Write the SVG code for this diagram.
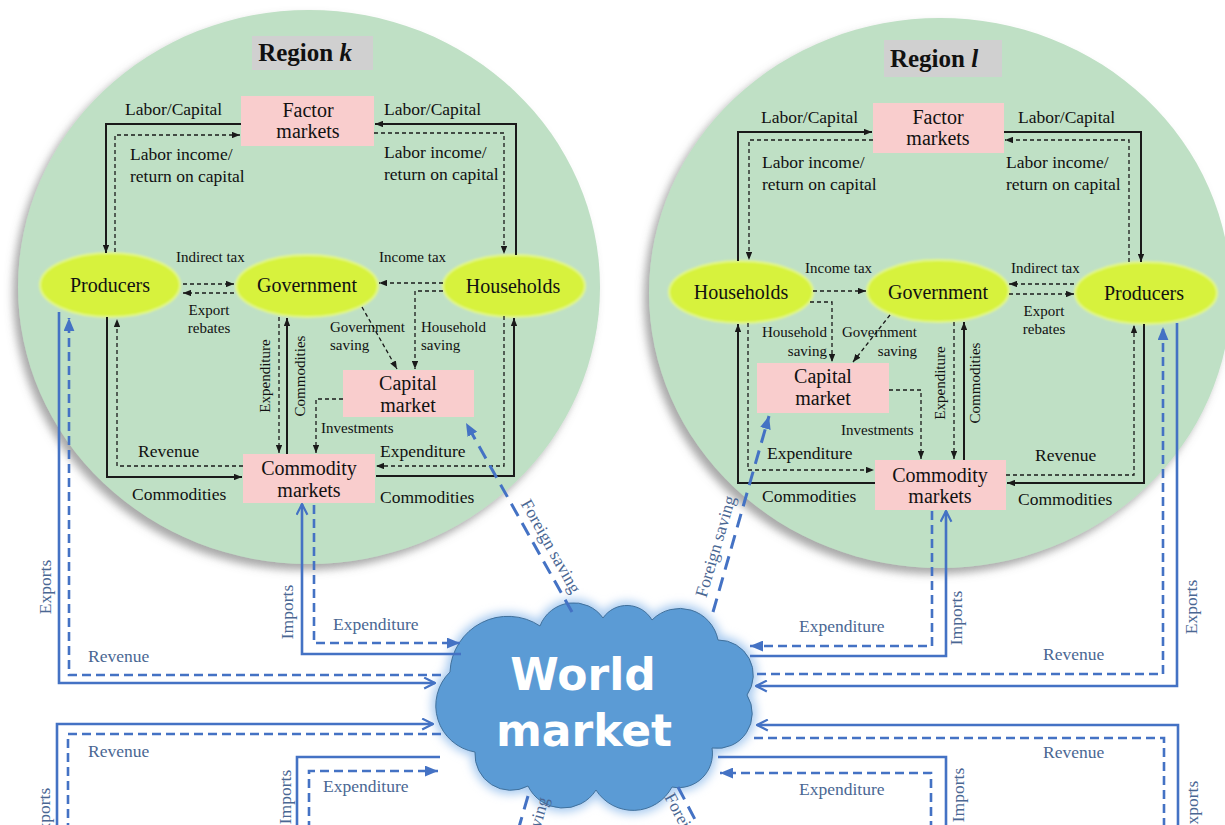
<svg xmlns="http://www.w3.org/2000/svg" width="1225" height="825" viewBox="0 0 1225 825">
  <style>
    .reg { fill: #bfe0c5; }
    .lbl { fill: #d0d0d0; }
    .box { fill: #f9cdcd; }
    .oval { fill: #d7f23e; stroke: #e4f88c; stroke-width: 2; }
    .t { fill: #111; }
    .big { font-size: 20px; text-anchor: middle; }
    .mid { font-size: 17.5px; }
    .sm { font-size: 15px; }
    .title { font-size: 25px; font-weight: bold; text-anchor: middle; }
    .bt { fill: #4a6793; font-size: 17.5px; }
    .c { text-anchor: middle; }
    .e { text-anchor: end; }
    .s { fill: none; stroke: #1a1a1a; stroke-width: 2; marker-end: url(#ah); }
    .d { fill: none; stroke: #1a1a1a; stroke-width: 1.3; stroke-dasharray: 4 3; marker-end: url(#ah); }
    .bs { fill: none; stroke: #4472c4; stroke-width: 2.6; }
    .bd { fill: none; stroke: #4472c4; stroke-width: 2.6; stroke-dasharray: 9 5; }
    .fs { fill: none; stroke: #4472c4; stroke-width: 3; stroke-dasharray: 14 8; }
    .world { font-weight: bold; font-size: 44px; fill: #fff; text-anchor: middle; }
  </style>
  <defs>
    <marker id="ah" viewBox="0 0 10 8" refX="10" refY="4" markerWidth="8" markerHeight="6.4" markerUnits="userSpaceOnUse" orient="auto">
      <path d="M0,0 L10,4 L0,8 z" fill="#1a1a1a"/>
    </marker>
    <marker id="tri" viewBox="0 0 12 10" refX="12" refY="5" markerWidth="13" markerHeight="11" markerUnits="userSpaceOnUse" orient="auto">
      <path d="M0,0 L12,5 L0,10 z" fill="#4472c4"/>
    </marker>
    <marker id="chev" viewBox="0 0 12 12" refX="11" refY="6" markerWidth="13" markerHeight="13" markerUnits="userSpaceOnUse" orient="auto">
      <path d="M1,1 L11,6 L1,11" fill="none" stroke="#4472c4" stroke-width="2"/>
    </marker>
    <filter id="shadow" x="-10%" y="-10%" width="120%" height="125%">
      <feGaussianBlur in="SourceAlpha" stdDeviation="4"/>
      <feOffset dx="-5" dy="6" result="b"/>
      <feFlood flood-color="#6f6f6f" flood-opacity="0.6"/>
      <feComposite in2="b" operator="in"/>
      <feMerge><feMergeNode/><feMergeNode in="SourceGraphic"/></feMerge>
    </filter>
    <filter id="glow" x="-20%" y="-20%" width="140%" height="140%">
      <feGaussianBlur stdDeviation="5"/>
    </filter>
    <filter id="soft" x="-10%" y="-10%" width="120%" height="120%">
      <feGaussianBlur stdDeviation="0.8"/>
    </filter>
    <path id="cloudShape" d="M450,672 A58,58 0 0 1 540,626 A36,36 0 0 1 603,618 A29,29 0 0 1 652,620 A39,39 0 0 1 718,640 A35,35 0 0 1 747,695 A35,35 0 0 1 712,748 A34,34 0 0 1 672,787 A44,44 0 0 1 596,790 A39,39 0 0 1 528,786 A36,36 0 0 1 475,752 A47,47 0 0 1 450,672 z"/>
  </defs>

  <rect width="1225" height="825" fill="#ffffff"/>

  <g font-family="'Liberation Serif', 'DejaVu Serif', 'Times New Roman', serif">
  <!-- Region k -->
  <g id="region-k">
    <ellipse class="reg" cx="309" cy="287" rx="291" ry="277" filter="url(#shadow)"/>
    <rect class="lbl" x="252" y="36" width="121" height="34"/>
    <text class="t title" x="305" y="61">Region <tspan font-style="italic">k</tspan></text>
  </g>

  <!-- Region l -->
  <g id="region-l">
    <ellipse class="reg" cx="940" cy="293" rx="291" ry="275" filter="url(#shadow)"/>
    <rect class="lbl" x="884" y="40" width="118" height="37"/>
    <text class="t title" x="934" y="67">Region <tspan font-style="italic">l</tspan></text>
  </g>

  <!-- World market -->
  <g id="world-market">
    <use href="#cloudShape" fill="#a9cbf0" stroke="#a9cbf0" stroke-width="8" filter="url(#glow)"/>
    <use href="#cloudShape" fill="#5b9bd5" stroke="#41719c" stroke-width="1"/>
    <text class="world" font-family="'DejaVu Sans', Verdana, sans-serif" x="583" y="690">World</text>
    <text class="world" font-family="'DejaVu Sans', Verdana, sans-serif" x="584" y="746">market</text>
  </g>

  <!-- Nodes, region k -->
  <g id="k-factor-markets">
    <rect class="box" x="241" y="96" width="133" height="50"/>
    <text class="t big" x="308" y="117">Factor</text>
    <text class="t big" x="308" y="138">markets</text>
  </g>
  <g id="k-producers">
    <ellipse class="oval" cx="110" cy="285" rx="70" ry="32" filter="url(#soft)"/>
    <text class="t big" x="110" y="292">Producers</text>
  </g>
  <g id="k-government">
    <ellipse class="oval" cx="307" cy="286" rx="71" ry="31" filter="url(#soft)"/>
    <text class="t big" x="307" y="292">Government</text>
  </g>
  <g id="k-households">
    <ellipse class="oval" cx="514" cy="286" rx="71" ry="31" filter="url(#soft)"/>
    <text class="t big" x="513" y="293">Households</text>
  </g>
  <g id="k-capital-market">
    <rect class="box" x="343" y="370" width="131" height="47"/>
    <text class="t big" x="408" y="390">Capital</text>
    <text class="t big" x="408" y="412">market</text>
  </g>
  <g id="k-commodity-markets">
    <rect class="box" x="243" y="454" width="132" height="49"/>
    <text class="t big" x="309" y="475">Commodity</text>
    <text class="t big" x="309" y="497">markets</text>
  </g>

  <!-- Nodes, region l -->
  <g id="l-factor-markets">
    <rect class="box" x="873" y="103" width="131" height="50"/>
    <text class="t big" x="938" y="124">Factor</text>
    <text class="t big" x="938" y="145">markets</text>
  </g>
  <g id="l-households">
    <ellipse class="oval" cx="741" cy="292" rx="72" ry="31" filter="url(#soft)"/>
    <text class="t big" x="741" y="299">Households</text>
  </g>
  <g id="l-government">
    <ellipse class="oval" cx="938" cy="291" rx="71" ry="31" filter="url(#soft)"/>
    <text class="t big" x="938" y="299">Government</text>
  </g>
  <g id="l-producers">
    <ellipse class="oval" cx="1146" cy="293" rx="71" ry="31" filter="url(#soft)"/>
    <text class="t big" x="1144" y="300">Producers</text>
  </g>
  <g id="l-capital-market">
    <rect class="box" x="757" y="363" width="132" height="50"/>
    <text class="t big" x="823" y="383">Capital</text>
    <text class="t big" x="823" y="405">market</text>
  </g>
  <g id="l-commodity-markets">
    <rect class="box" x="875" y="460" width="131" height="50"/>
    <text class="t big" x="940" y="482">Commodity</text>
    <text class="t big" x="940" y="503">markets</text>
  </g>

  <!-- Connectors -->
  <g id="connectors">
    <!-- region k, internal flows -->
    <path class="s" d="M241,124 H106 V253"/>
    <path class="d" d="M115,252 V135 H240"/>
    <path class="s" d="M516,255 V124 H375"/>
    <path class="d" d="M374,133 H504 V254"/>
    <path class="d" d="M183,284 H234"/>
    <path class="d" d="M234,293 H183"/>
    <path class="d" d="M443,283 H379"/>
    <path class="d" d="M443,291 H415 V369"/>
    <path class="d" d="M362,307 L397,369"/>
    <path class="d" d="M279,317 V453"/>
    <path class="s" d="M287,454 V318"/>
    <path class="d" d="M343,399 H316 V453"/>
    <path class="d" d="M243,466 H117 V319"/>
    <path class="s" d="M107,317 V477 H242"/>
    <path class="d" d="M504,316 V466 H376"/>
    <path class="s" d="M376,476 H514 V318"/>

    <!-- region l, internal flows -->
    <path class="s" d="M738,261 V132 H872"/>
    <path class="d" d="M873,140 H749 V260"/>
    <path class="s" d="M1004,132 H1141 V262"/>
    <path class="d" d="M1129,262 V140 H1005"/>
    <path class="d" d="M813,291 H866"/>
    <path class="d" d="M1074,284 H1009"/>
    <path class="d" d="M1009,294 H1074"/>
    <path class="d" d="M810,302 H832 V362"/>
    <path class="d" d="M890,315 L853,362"/>
    <path class="d" d="M889,390 H921 V459"/>
    <path class="d" d="M954,322 V459"/>
    <path class="s" d="M964,460 V322"/>
    <path class="s" d="M875,483 H738 V324"/>
    <path class="d" d="M748,323 V470 H874"/>
    <path class="d" d="M1006,475 H1134 V325"/>
    <path class="s" d="M1144,324 V483 H1007"/>

    <!-- region k, trade with the world market -->
    <path class="bs" d="M59,312 V683 H435" marker-end="url(#chev)"/>
    <path class="bd" d="M441,675 H69 V318" marker-end="url(#tri)"/>
    <path class="bs" d="M461,654 H302 V504" marker-end="url(#chev)"/>
    <path class="bd" d="M314,505 V643 H460" marker-end="url(#tri)"/>
    <path class="fs" d="M572,612 L466,423" marker-end="url(#tri)"/>

    <!-- region l, trade with the world market -->
    <path class="bs" d="M750,656 H946 V511" marker-end="url(#chev)"/>
    <path class="bd" d="M932,511 V646 H750" marker-end="url(#tri)"/>
    <path class="bs" d="M1177,323 V686 H756" marker-end="url(#chev)"/>
    <path class="bd" d="M757,674 H1163 V327" marker-end="url(#tri)"/>
    <path class="fs" d="M713,612 L769,416" marker-end="url(#tri)"/>

    <!-- lower regions, trade with the world market -->
    <path class="bs" d="M57,830 V724 H433" marker-end="url(#chev)"/>
    <path class="bd" d="M441,734 H68 V830"/>
    <path class="bs" d="M440,757 H297 V830"/>
    <path class="bd" d="M309,830 V771 H438" marker-end="url(#tri)"/>
    <path class="bs" d="M1178,830 V725 H757" marker-end="url(#chev)"/>
    <path class="bd" d="M754,738 H1164 V830"/>
    <path class="bs" d="M718,757 H946 V830"/>
    <path class="bd" d="M931,830 V773 H720" marker-end="url(#tri)"/>
    <path class="fs" d="M528,796 L517,834"/>
    <path class="fs" d="M678,787 L700,829"/>
  </g>

  <!-- Connector labels, region k -->
  <g id="labels-k">
    <text class="t mid" x="125" y="115">Labor/Capital</text>
    <text class="t mid" x="384" y="115">Labor/Capital</text>
    <text class="t mid" x="130" y="160">Labor income/</text>
    <text class="t mid" x="130" y="182">return on capital</text>
    <text class="t mid" x="384" y="158">Labor income/</text>
    <text class="t mid" x="384" y="180">return on capital</text>
    <text class="t sm" x="176" y="262">Indirect tax</text>
    <text class="t sm c" x="209" y="315">Export</text>
    <text class="t sm c" x="209" y="333">rebates</text>
    <text class="t sm" x="379" y="262">Income tax</text>
    <text class="t sm" x="330" y="332">Government</text>
    <text class="t sm" x="330" y="350">saving</text>
    <text class="t sm" x="421" y="332">Household</text>
    <text class="t sm" x="421" y="350">saving</text>
    <text class="t sm" x="321" y="433">Investments</text>
    <text class="t sm c" transform="translate(265,376) rotate(-90)" x="0" y="5">Expenditure</text>
    <text class="t sm c" transform="translate(300,376) rotate(-90)" x="0" y="5">Commodities</text>
    <text class="t mid" x="138" y="457">Revenue</text>
    <text class="t mid" x="132" y="500">Commodities</text>
    <text class="t mid" x="380" y="457">Expenditure</text>
    <text class="t mid" x="380" y="503">Commodities</text>
  </g>

  <!-- Connector labels, region l -->
  <g id="labels-l">
    <text class="t mid" x="761" y="123">Labor/Capital</text>
    <text class="t mid" x="1018" y="123">Labor/Capital</text>
    <text class="t mid" x="762" y="168">Labor income/</text>
    <text class="t mid" x="762" y="190">return on capital</text>
    <text class="t mid" x="1006" y="168">Labor income/</text>
    <text class="t mid" x="1006" y="190">return on capital</text>
    <text class="t sm" x="805" y="273">Income tax</text>
    <text class="t sm" x="1011" y="273">Indirect tax</text>
    <text class="t sm c" x="1044" y="316">Export</text>
    <text class="t sm c" x="1044" y="334">rebates</text>
    <text class="t sm e" x="827" y="337">Household</text>
    <text class="t sm e" x="827" y="356">saving</text>
    <text class="t sm e" x="917" y="337">Government</text>
    <text class="t sm e" x="917" y="356">saving</text>
    <text class="t sm" x="841" y="435">Investments</text>
    <text class="t sm c" transform="translate(940,383) rotate(-90)" x="0" y="5">Expenditure</text>
    <text class="t sm c" transform="translate(975,383) rotate(-90)" x="0" y="5">Commodities</text>
    <text class="t mid" x="767" y="459">Expenditure</text>
    <text class="t mid" x="762" y="502">Commodities</text>
    <text class="t mid" x="1035" y="461">Revenue</text>
    <text class="t mid" x="1018" y="505">Commodities</text>
  </g>

  <!-- Trade labels -->
  <g id="labels-trade">
    <text class="bt c" transform="translate(45,587) rotate(-90)" x="0" y="6">Exports</text>
    <text class="bt" x="88" y="662">Revenue</text>
    <text class="bt c" transform="translate(287,612) rotate(-90)" x="0" y="6">Imports</text>
    <text class="bt" x="333" y="630">Expenditure</text>
    <text class="bt c" transform="translate(546,549) rotate(60.6)">Foreign saving</text>
    <text class="bt c" transform="translate(721,548) rotate(-73.7)">Foreign saving</text>
    <text class="bt c" transform="translate(956,618) rotate(-90)" x="0" y="6">Imports</text>
    <text class="bt" x="799" y="632">Expenditure</text>
    <text class="bt c" transform="translate(1191,607) rotate(-90)" x="0" y="6">Exports</text>
    <text class="bt" x="1043" y="660">Revenue</text>

    <text class="bt" x="88" y="757">Revenue</text>
    <text class="bt c" transform="translate(44,815) rotate(-90)" x="0" y="6">Exports</text>
    <text class="bt c" transform="translate(285,797) rotate(-90)" x="0" y="6">Imports</text>
    <text class="bt" x="323" y="792">Expenditure</text>
    <text class="bt" x="1043" y="758">Revenue</text>
    <text class="bt c" transform="translate(1192,808) rotate(-90)" x="0" y="6">Exports</text>
    <text class="bt c" transform="translate(958,795) rotate(-90)" x="0" y="6">Imports</text>
    <text class="bt" x="799" y="795">Expenditure</text>
    <text class="bt e" transform="translate(549,799) rotate(-73.7)">Foreign saving</text>
    <text class="bt" transform="translate(664,797) rotate(61.6)">Foreign saving</text>
  </g>
  </g>
</svg>
